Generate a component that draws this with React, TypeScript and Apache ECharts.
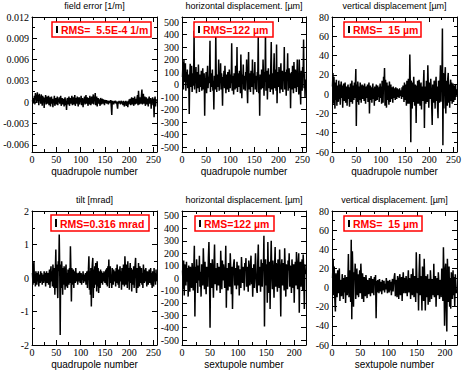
import React, { useEffect, useRef } from "react";
import * as echarts from "echarts";

// ---------- data ----------
const fieldError = [
  0.0003, -0.0002, 0.0006, 0.0001, 0.0009, -0.0003, 0.0013, 0.0004, 0.0011, -0.0001, 0.0014, 0.0002, 0.0010, -0.0004, 0.0012, 0.0003,
  0.0008, -0.0002, 0.0011, 0.0005, -0.0005, 0.0009, 0.0002, 0.0007, -0.0008, 0.0006, 0.0001, 0.0010, -0.0003, 0.0005, 0.0008, -0.0002,
  0.0004, 0.0009, -0.0004, 0.0002, 0.0007, -0.0006, 0.0003, 0.0008, -0.0002, 0.0005, -0.0007, 0.0004, 0.0001, 0.0009, -0.0005, 0.0003,
  0.0006, -0.0003, 0.0002, 0.0008, -0.0004, 0.0005, 0.0001, 0.0007, -0.0002, 0.0004, 0.0009, -0.0005, 0.0003, 0.0006, -0.0003, 0.0002,
  0.0005, -0.0006, 0.0003, 0.0007, -0.0004, 0.0002, -0.0011, 0.0004, 0.0006, -0.0003, 0.0001, 0.0008, -0.0005, 0.0003, 0.0006, -0.0002,
  0.0004, 0.0009, -0.0004, 0.0002, 0.0007, -0.0003, 0.0005, 0.0010, -0.0005, 0.0003, 0.0006, -0.0002, 0.0008, 0.0001, -0.0006, 0.0004,
  0.0007, -0.0003, 0.0005, 0.0002, 0.0009, -0.0004, 0.0003, 0.0006, -0.0007, 0.0004, 0.0001, 0.0008, -0.0003, 0.0005, 0.0010, -0.0002,
  0.0003, 0.0007, -0.0005, 0.0002, 0.0006, -0.0003, 0.0009, 0.0001, -0.0004, 0.0005, 0.0008, -0.0002, 0.0004, 0.0011, -0.0003, 0.0006,
  0.0002, 0.0013, -0.0004, 0.0005, 0.0008, -0.0006, 0.0003, 0.0006, -0.0002, 0.0004, 0.0001, -0.0005, 0.0006, 0.0002, -0.0003, 0.0005,
  0.0003, -0.0002, 0.0004, 0.0001, -0.0004, 0.0003, 0.0002, -0.0001, 0.0003, -0.0002, 0.0001, 0.0002, -0.0003, 0.0001, 0.0002, -0.0001,
  0.0001, 0.0003, -0.0006, -0.0018, 0.0002, -0.0001, 0.0001, -0.0003, 0.0002, -0.0001, 0.0001, 0.0002, -0.0002, 0.0001, -0.0004, -0.0009,
  0.0001, -0.0002, 0.0002, -0.0001, 0.0001, -0.0003, 0.0002, 0.0001, -0.0002, 0.0001, -0.0004, 0.0002, -0.0001, -0.0006, 0.0001, -0.0003,
  0.0002, -0.0005, 0.0001, -0.0002, -0.0007, 0.0002, -0.0003, 0.0004, -0.0002, 0.0005, -0.0004, 0.0003, 0.0007, -0.0003, 0.0004, 0.0006,
  -0.0005, 0.0002, 0.0008, -0.0003, 0.0005, 0.0003, -0.0002, 0.0006, 0.0010, -0.0004, 0.0016, 0.0003, -0.0003, 0.0007, 0.0005, -0.0002,
  0.0009, 0.0018, -0.0003, 0.0006, 0.0012, -0.0002, 0.0004, 0.0008, -0.0005, 0.0003, 0.0007, -0.0003, 0.0005, 0.0002, -0.0006, 0.0004,
  0.0008, -0.0002, 0.0003, 0.0006, -0.0009, 0.0004, 0.0001, 0.0007, -0.0004, 0.0005, -0.0021, 0.0002, 0.0008, -0.0006, 0.0004, 0.0002,
];

const quadHoriz = [
  60, 180, -40, 195, 20, 110, 170, -50, 90, 30, 120, -30, 80, 40, -235, 60,
  165, -20, 70, 150, -60, 40, 90, -10, 430, -40, 70, 20, 140, -70, 50, 100,
  -30, 160, 20, -60, 80, 40, -20, 110, -50, 30, 130, -40, 60, 90, -250, 50,
  20, 100, -70, 40, 150, -30, 60, 10, 80, 350, -60, 40, 90, -20, 120, -50,
  30, -200, 70, 20, -40, 410, 50, -60, 80, 30, -20, 200, -50, 60, 20, 170,
  -40, 90, 30, -170, 60, 20, 110, -30, 150, 40, -70, 80, 20, -40, 100, 30,
  -60, 120, 50, -30, 80, 10, 330, -50, 70, 30, -80, 90, 20, -40, 150, 60,
  -30, 300, -60, 40, 90, -20, 110, 30, -70, 240, 50, -110, 80, 20, 160, -40,
  70, 30, -50, 100, 40, 200, -30, -150, 60, 260, -40, 90, 20, -60, 110, 30,
  -20, 200, 50, -80, 90, 30, 180, -40, 70, 20, -60, 100, 40, 380, -70, 60,
  -250, 80, 30, -40, 120, 50, -30, 200, 60, -90, 100, 20, 420, -50, 70, 110,
  -120, 60, 130, -30, 80, 20, -60, 150, 340, -40, 90, 30, -80, 110, 250, -30,
  70, 120, -50, 320, -150, 60, 100, -20, 140, 30, -70, 90, 170, -40, 60, 110,
  -60, 80, 30, 300, -40, 100, 50, -90, 120, 40, 250, -50, 70, 130, -30, 90,
  -190, 60, 100, -40, 150, 30, -70, 180, 50, -30, 120, 80, -60, 40, 200, -20,
  90, -80, 200, 60, -40, -160, 110, 30, -50, 140, 70, 360, -30, 90, -100, 40,
];

const quadVert = [
  8, 22, -10, 18, 5, -15, 12, -6, 15, -12, 9, 3, -8, 14, -5, 10,
  -11, 7, 13, -4, 9, -14, 6, 11, -7, 4, 12, -9, 3, 8, -12, 6,
  10, -5, 7, -13, 4, 11, -8, 6, 14, -10, 3, 9, -6, 12, -4, 8,
  26, -33, 10, -8, 13, 5, -11, 8, -6, 12, 3, -9, 7, 10, -5, 4,
  9, -7, 11, 2, -10, 6, 8, -4, 10, -8, 5, 12, -20, 4, 9, -6,
  7, -9, 3, 11, -5, 6, -12, 8, 2, -7, 10, 4, -6, 9, -3, 7,
  -8, 5, 11, -4, 8, -10, 14, 6, -9, 18, 10, 27, -12, 15, 7, -14,
  12, -6, 9, 4, -11, 13, 6, -8, 10, -5, 7, 3, -9, 8, -4, 6,
  4, -6, 7, 2, -5, 6, -3, 5, 1, -4, 6, -2, 4, 3, -5, 7,
  -3, 9, 5, -8, 12, -6, 10, 4, -12, 14, 6, -10, 16, 8, -10, 41,
  10, -50, 14, 6, -15, 12, -8, 18, 5, -12, 10, 6, -30, 9, -10, 14,
  4, -10, 15, 7, -12, 6, 12, -16, 8, 3, -7, 10, 25, -35, 8, 5,
  -10, 14, 6, -8, 30, 9, -14, 7, 12, -5, 16, 4, -12, -32, 10, 6,
  -9, 14, 5, -15, 10, 18, -7, 8, -12, -25, 14, 5, -9, 12, 30, -8,
  18, 10, 68, -53, 22, -15, 12, 19, 28, -20, 14, 8, -12, 16, 22, -9,
  10, -14, 8, 15, -7, 12, -10, 6, 11, -8, 9, 4, -6, 10, -3, 5,
];

const quadTilt = [
  0.15, -0.2, 0.25, 0.5, -0.15, 0.1, -0.25, 0.2, 0.05, -0.2, 0.15, -0.1, 0.2, -0.25, 0.1, 0.05,
  -0.15, 0.2, -0.1, 0.15, -0.2, 0.1, 0.05, -0.15, 0.2, -0.1, 0.15, -0.25, 0.1, 0.2, -0.15, 0.05,
  0.15, -0.2, 0.1, 0.25, -0.3, 0.15, 0.35, -0.1, 0.2, -0.25, 0.4, 0.1, -0.3, 0.3, -0.5, 0.2,
  0.85, -0.3, 0.4, -0.2, -0.6, 0.5, 0.2, 1.3, 0.3, -1.7, 0.4, -0.3, 0.5, 0.1, -0.5, 0.3,
  -0.2, 0.35, 0.1, -0.35, 0.2, 0.4, -0.25, 0.15, -0.3, 0.25, 0.1, -0.2, 0.3, -0.15, 0.95, 0.2,
  -0.7, 0.3, -0.2, 0.15, 0.25, -0.3, 0.1, 0.2, -0.15, 0.3, -0.1, 0.15, 0.05, -0.2, 0.1, 0.15,
  -0.1, 0.2, -0.15, 0.05, 0.15, -0.2, 0.1, -0.05, 0.2, -0.15, 0.1, 0.05, -0.1, 0.15, -0.2, 0.1,
  0.2, -0.3, 0.15, 0.25, 0.65, -0.35, 0.2, -0.5, 0.3, -0.85, 0.1, 0.4, 0.6, -0.6, 0.25, -0.3,
  0.35, -0.2, 0.45, 0.1, -0.4, 0.5, -0.25, 0.3, -0.45, 0.2, 0.1, -0.3, 0.25, -0.15, 0.2, 0.1,
  -0.2, 0.15, -0.1, 0.2, 0.05, -0.15, 0.1, 0.25, -0.2, 0.3, -0.25, 0.35, 0.1, 0.55, -0.3, 0.2,
  0.35, -0.15, 0.1, -0.3, 0.3, 0.15, -0.2, 0.25, -0.1, 0.2, 0.05, -0.25, 0.3, -0.15, 0.4, 0.1,
  -0.2, 0.25, -0.3, 0.15, 0.35, -0.1, 0.2, -0.35, 0.3, 0.1, -0.2, 0.4, 0.2, -0.25, 0.65, 0.3,
  -0.2, 0.4, 0.15, -0.3, 0.5, -0.1, 0.3, -0.35, 0.2, 0.45, -0.15, 0.3, -0.4, 0.25, 0.1, -0.2,
  0.35, -0.3, 0.2, 0.4, 0.6, -0.2, -0.45, 0.3, 0.15, -0.3, 0.45, 0.1, -0.25, 0.35, -0.15, 0.2,
  0.3, -0.2, 0.15, -0.3, 0.4, 0.1, -0.15, 0.25, -0.1, 0.3, 0.05, -0.25, 0.2, 0.1, -0.2, 0.15,
  0.25, -0.15, 0.1, 0.3, -0.2, 0.15, -0.3, 0.2, 0.05, -0.25, 0.3, -0.1, 0.15, -0.2, 0.25, -0.1,
];

const sextHoriz = [
  60, -90, 140, -140, 110, 30, -60, 130, -30, 80, -150, 100, 50, -110, 90, 20,
  -80, 120, 40, -100, 70, 260, -310, 90, -40, 150, 30, -120, 100, -20, 180, -70,
  50, -150, 110, 20, -60, 240, 80, -90, 130, -20, -130, 90, 40, -70, 160, 290,
  30, -400, 120, 60, -80, 150, 20, -160, 100, 270, -50, 80, 30, -100, 120, 40,
  -60, 90, 30, -120, 220, 70, -90, 140, -20, 110, 60, -80, 30, 260, -240, 80,
  40, -100, 120, 20, -70, 200, 60, -130, 90, -250, 50, 110, 150, -60, 80, 20,
  -90, 130, 40, -60, 100, -140, 70, 20, -80, 170, 50, -40, 90, 30, -100, 120,
  60, 160, -70, 90, 20, -110, 140, 40, -60, 100, 180, -50, 80, -150, 30, 110,
  -80, 60, 200, 20, -90, -120, 130, 270, -60, 90, 40, -110, 150, 30, -70, 120,
  60, 340, -390, 90, 150, -60, 110, -200, 290, 40, -120, 130, -250, 80, 300, 50,
  -90, 140, 30, -160, 100, 250, -70, 120, 40, -110, 150, 60, -80, 230, 20, -310,
  90, 150, -60, 120, 40, -100, 240, 70, -150, 110, 30, -90, 140, 60, 200, -70,
  100, 30, -120, 150, 50, -80, 110, -200, 60, 130, -60, 210, 40, -90, 120, 200,
  -280, 80, 130, -70, 60, 150, -100, 190, 40, -250, 110, 30,
];

const sextVert = [
  10, 30, -8, 22, -12, -25, 15, 5, -10, 18, -6, 12, 20, -14, 8, 3,
  -9, 14, 6, -12, 10, -5, 13, -16, 7, 11, -8, 4, 35, -10, 18, 8,
  -15, 50, -33, 38, 12, -20, 16, 8, 25, -12, 10, 20, -8, 14, -10, 6,
  18, -6, 25, 9, -12, 15, 4, -15, 11, 7, -9, 13, 5, -11, 8, 3,
  -7, 10, 6, -9, 12, 2, -6, 9, 4, -8, 11, 5, 13, -32, 7, -5,
  8, 3, -6, 9, -4, 6, 2, -7, 8, -3, 5, 7, -5, 4, -2, 10,
  3, -6, 7, 2, -5, 8, -3, 6, -8, 4, 9, -4, 6, 11, 15, -9,
  8, 4, -10, 12, 6, -12, 9, 14, -8, 5, 11, -14, 7, 16, -6, 10,
  8, -6, 12, 4, -9, 6, 18, -5, 10, 3, -12, 14, 6, -8, 20, 5,
  -10, 12, 6, -15, 37, 8, -6, 10, -24, 14, 35, -8, 12, 4, -24, 22,
  10, -14, 30, 6, -24, 12, 5, -10, 14, -18, 9, 4, -15, 18, 6, -12,
  9, 3, -8, 25, -10, 6, 12, -20, 5, 10, -8, 16, 4, -12, 8, 6,
  -10, 20, 12, -14, 42, 10, -40, 18, 25, -22, -46, 30, 8, -15, 22, -20,
  10, -22, 16, 5, -12, 18, -8, 11, -20, 14, 3, -6,
];

// ---------- tick labels ----------
const quadXTicks = [0, 50, 100, 150, 200, 250];
const quadXMinor = [25, 75, 125, 175, 225];
const sextXTicks = [0, 50, 100, 150, 200];
const sextXMinor = [25, 75, 125, 175];
const fieldYTicks = [-0.006, -0.003, 0, 0.003, 0.006, 0.009, 0.012];
const fieldYMinor = [-0.0045, -0.0015, 0.0015, 0.0045, 0.0075, 0.0105];
const hYTicks = [-500, -400, -300, -200, -100, 0, 100, 200, 300, 400, 500];
const hYMinor: number[] = [];
const vYTicks = [-60, -40, -20, 0, 20, 40, 60, 80];
const vYMinor = [-50, -30, -10, 10, 30, 50, 70];
const tiltYTicks = [-2, -1, 0, 1, 2];
const tiltYMinor = [-1.5, -0.5, 0.5, 1.5];

// ---------- texts ----------
const titles = [
  "field error [1/m]",
  "horizontal displacement. [\u00b5m]",
  "vertical displacement [\u00b5m]",
  "tilt [mrad]",
  "horizontal displacement. [\u00b5m]",
  "vertical displacement. [\u00b5m]",
];
const xNames = [
  "quadrupole number",
  "quadrupole number",
  "quadrupole number",
  "quadrupole number",
  "sextupole number",
  "sextupole number",
];
const rmsLabels = [
  "RMS= \u00a05.5E-4 1/m",
  "RMS=122 \u00b5m",
  "RMS= \u00a015 \u00b5m",
  "RMS=0.316 mrad",
  "RMS=122 \u00b5m",
  "RMS= \u00a015 \u00b5m",
];

const panels = [
  { data: fieldError, xMax: 257, yMin: -0.007, yMax: 0.012, xT: quadXTicks, xm: quadXMinor, yT: fieldYTicks, ym: fieldYMinor, grid: { left: 32, top: 17, width: 125, height: 135 }, box: [52, 22, 99, 15] },
  { data: quadHoriz, xMax: 257, yMin: -540, yMax: 540, xT: quadXTicks, xm: quadXMinor, yT: hYTicks, ym: hYMinor, grid: { left: 182, top: 17, width: 124, height: 135 }, box: [194, 22, 79, 15] },
  { data: quadVert, xMax: 257, yMin: -60, yMax: 80, xT: quadXTicks, xm: quadXMinor, yT: vYTicks, ym: vYMinor, grid: { left: 332, top: 17, width: 125, height: 135 }, box: [344, 22, 77, 15] },
  { data: quadTilt, xMax: 257, yMin: -2, yMax: 2, xT: quadXTicks, xm: quadXMinor, yT: tiltYTicks, ym: tiltYMinor, grid: { left: 32, top: 211, width: 125, height: 134 }, box: [51, 215, 98, 16] },
  { data: sextHoriz, xMax: 221, yMin: -540, yMax: 540, xT: sextXTicks, xm: sextXMinor, yT: hYTicks, ym: hYMinor, grid: { left: 182, top: 211, width: 124, height: 134 }, box: [195, 216, 79, 15] },
  { data: sextVert, xMax: 221, yMin: -60, yMax: 80, xT: sextXTicks, xm: sextXMinor, yT: vYTicks, ym: vYMinor, grid: { left: 332, top: 211, width: 125, height: 134 }, box: [344, 216, 78, 15] },
];

const BLACK = "#000";
const SERIF = "Liberation Serif";
const SANS = "Liberation Sans";

function axisGroup(
  gridIndex: number,
  min: number,
  max: number,
  major: number[],
  minor: number[],
  sides: [string, string],
  isX: boolean,
  name?: string
) {
  const base: any = {
    type: "value",
    gridIndex,
    min,
    max,
    splitLine: { show: false },
    silent: true,
    axisPointer: { show: false },
  };
  const line = { show: true, onZero: false, lineStyle: { color: BLACK, width: 1 } };
  const noLine = { show: false, onZero: false };
  const majorTick = { show: true, inside: true, length: 5, customValues: major, lineStyle: { color: BLACK, width: 1 } };
  const minorTick = minor.length
    ? { show: true, inside: true, length: 3, customValues: minor, lineStyle: { color: BLACK, width: 1 } }
    : { show: false };
  const label = {
    show: true,
    customValues: major,
    color: BLACK,
    fontFamily: SERIF,
    fontSize: 10,
    margin: isX ? 2 : 3,
    formatter: (v: number) => String(v),
  };
  const main: any = { ...base, position: sides[0], axisLine: line, axisTick: majorTick, axisLabel: label };
  if (name) {
    main.name = name;
    main.nameLocation = "middle";
    main.nameGap = 14;
    main.nameTextStyle = { color: BLACK, fontFamily: SANS, fontSize: 10 };
  }
  return [
    main,
    { ...base, position: sides[0], axisLine: noLine, axisTick: minorTick, axisLabel: { show: false } },
    { ...base, position: sides[1], axisLine: line, axisTick: majorTick, axisLabel: { show: false } },
    { ...base, position: sides[1], axisLine: noLine, axisTick: minorTick, axisLabel: { show: false } },
  ];
}

export default function App() {
  const ref = useRef<HTMLDivElement>(null);
  useEffect(() => {
    if (!ref.current) return;
    const chart = echarts.init(ref.current, undefined, { renderer: "svg" });
    const grids: any[] = [];
    const xAxes: any[] = [];
    const yAxes: any[] = [];
    const series: any[] = [];
    const graphics: any[] = [];
    panels.forEach((p, i) => {
      grids.push({ ...p.grid, show: false, containLabel: false, outerBoundsMode: "none" });
      xAxes.push(...axisGroup(i, 0, p.xMax, p.xT, p.xm, ["bottom", "top"], true, xNames[i]));
      yAxes.push(...axisGroup(i, p.yMin, p.yMax, p.yT, p.ym, ["left", "right"], false));
      series.push({
        type: "line",
        xAxisIndex: i * 4,
        yAxisIndex: i * 4,
        data: p.data.map((v, k) => [k + 1, v]),
        showSymbol: false,
        symbol: "none",
        silent: true,
        lineStyle: { color: BLACK, width: 1.5 },
        z: 2,
      });
      const cx = p.grid.left + p.grid.width / 2;
      const ty = p.grid.top - 11.5;
      graphics.push({
        type: "text",
        x: cx,
        y: ty,
        z: 100,
        style: { text: titles[i], fill: BLACK, fontFamily: SANS, fontSize: 9, align: "center", verticalAlign: "middle" },
      });
      const [bx, by, bw, bh] = p.box;
      graphics.push({
        type: "rect",
        z: 100,
        shape: { x: bx, y: by, width: bw, height: bh },
        style: { fill: "#fff", stroke: "#ff0000", lineWidth: 1.5 },
      });
      graphics.push({
        type: "line",
        z: 101,
        shape: { x1: bx + 5, y1: by + 4, x2: bx + 5, y2: by + bh - 4 },
        style: { stroke: BLACK, lineWidth: 2 },
      });
      graphics.push({
        type: "text",
        z: 101,
        x: bx + 9,
        y: by + bh / 2 + 0.5,
        style: { text: rmsLabels[i], fill: "#ff0000", fontFamily: SANS, fontSize: 10.5, fontWeight: "bold", align: "left", verticalAlign: "middle" },
      });
    });
    chart.setOption({
      animation: false,
      backgroundColor: "#fff",
      grid: grids,
      xAxis: xAxes,
      yAxis: yAxes,
      series,
      graphic: graphics,
    });
    return () => chart.dispose();
  }, []);
  return (
    <div
      ref={ref}
      style={{ position: "absolute", left: 0, top: 0, width: 463, height: 371, background: "#fff" }}
    />
  );
}
